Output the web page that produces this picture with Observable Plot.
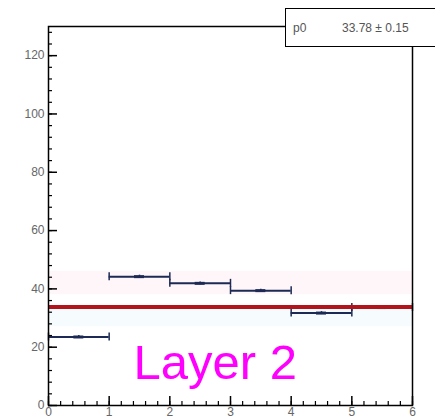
<!DOCTYPE html>
<html><head><meta charset="utf-8">
<script src="https://cdn.jsdelivr.net/npm/d3@7"></script>
<script src="https://cdn.jsdelivr.net/npm/@observablehq/plot@0.6"></script>
<style>
html,body{margin:0;padding:0;background:#fff;overflow:hidden;}
#wrap{position:relative;width:435px;height:420px;}
#stat{position:absolute;left:285px;top:8px;width:170px;height:37px;border:1.5px solid #000;background:#fff;
font-family:"Liberation Sans",Arial,sans-serif;font-size:12px;color:#555;}
#stat span{position:absolute;top:12px;}
</style></head>
<body><div id="wrap"><div id="stat"><span style="left:7px">p0</span><span style="left:56px">33.78 ± 0.15</span></div></div>
<script>
const binLow = [0, 1, 2, 3, 4, 5];
const binHigh = [1, 2, 3, 4, 5, 6];
const values = [23.5, 44.2, 41.9, 39.4, 31.7, 33.6];
const errors = [0.5, 0.5, 0.5, 0.5, 0.5, 0.5];
const fitP0 = 33.78;
const xTicks = [0, 1, 2, 3, 4, 5, 6];
const yTicks = [0, 20, 40, 60, 80, 100, 120];
const xMinor = d3.range(0, 6.001, 0.2);
const yMinor = d3.range(0, 130.001, 4);

const W = 435, H = 420, mL = 48, mR = 23, mT = 26, mB = 15;
const xDom = [0, 6], yDom = [0, 130];
const ux = (xDom[1] - xDom[0]) / (W - mL - mR); // data units per px
const uy = (yDom[1] - yDom[0]) / (H - mT - mB);

const bins = binLow.map((lo, i) => ({lo, hi: binHigh[i], c: (lo + binHigh[i]) / 2, v: values[i], e: errors[i]}));
const caps = bins.flatMap(b => [{x: b.lo, v: b.v}, {x: b.hi, v: b.v}]);
const navy = "#1c2a55";
const font = "Liberation Sans, Arial, sans-serif";

const chart = Plot.plot({
  width: W, height: H,
  marginLeft: mL, marginRight: mR, marginTop: mT, marginBottom: mB,
  style: {fontFamily: font, fontSize: "12px", color: "#666", background: "#fff"},
  x: {domain: xDom},
  y: {domain: yDom},
  marks: [
    Plot.rectY([{a: 38, b: 46}], {x1: 0, x2: 6, y1: "a", y2: "b", fill: "#fef6f8"}),
    Plot.rectY([{a: 27, b: 33}], {x1: 0, x2: 6, y1: "a", y2: "b", fill: "#f6fcfd"}),
    Plot.ruleY(bins, {x1: "lo", x2: "hi", y: "v", stroke: navy, strokeWidth: 2}),
    Plot.ruleX(caps, {x: "x", y1: d => d.v - 4 * uy, y2: d => d.v + 4 * uy, stroke: navy, strokeWidth: 1.5}),
    Plot.ruleX(bins, {x: "c", y1: d => d.v - d.e, y2: d => d.v + d.e, stroke: navy, strokeWidth: 1.5}),
    Plot.ruleY(bins, {x1: d => d.c - 5 * ux, x2: d => d.c + 5 * ux, y: "v", stroke: navy, strokeWidth: 3}),
    Plot.ruleY([fitP0], {x1: 0, x2: 6, stroke: "#b3141c", strokeWidth: 4}),
    // inward ticks
    Plot.ruleY(yMinor, {x1: 0, x2: 4 * ux, stroke: "#000", strokeWidth: 1.2}),
    Plot.ruleY(yTicks, {x1: 0, x2: 9 * ux, stroke: "#000", strokeWidth: 1.5}),
    Plot.ruleX(xMinor, {y1: 0, y2: 4 * uy, stroke: "#000", strokeWidth: 1.2}),
    Plot.ruleX(xTicks, {y1: 0, y2: 9 * uy, stroke: "#000", strokeWidth: 1.5}),
    Plot.axisY({ticks: yTicks, tickSize: 0, tickPadding: 4, tickFormat: d => d, fill: "#666"}),
    Plot.axisX({ticks: xTicks, tickSize: 0, tickPadding: 2, tickFormat: d => d, fill: "#666"}),
    Plot.frame({stroke: "#000", strokeWidth: 1.5}),
    Plot.text(["Layer 2"], {x: 2.75, y: 14.6, text: d => d, fill: "#ff00ff", fontSize: 49, fontFamily: font})
  ]
});
document.getElementById("wrap").prepend(chart);
chart.style.position = "absolute"; chart.style.left = "0"; chart.style.top = "0";
</script></body></html>
